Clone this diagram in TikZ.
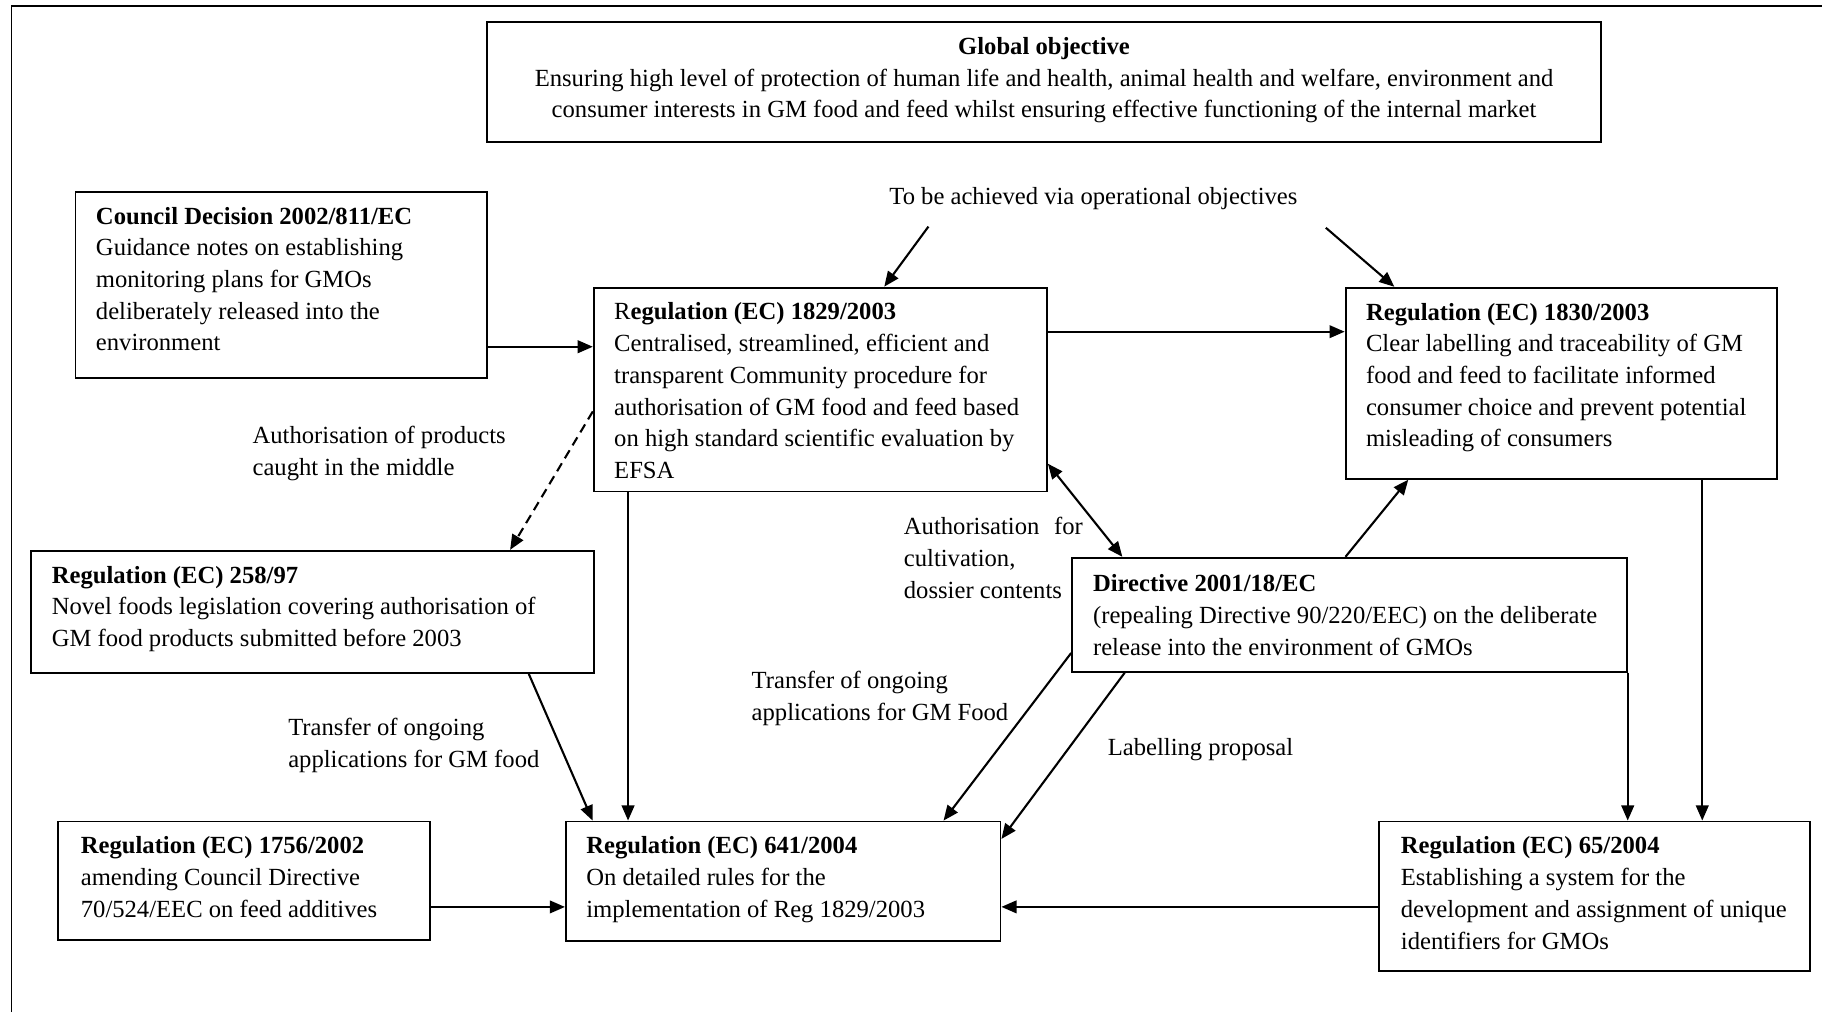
\documentclass[tikz,border=0pt]{standalone}
\usepackage{fontspec}
\setmainfont{Liberation Serif}
\usepackage{tikz}
\usetikzlibrary{positioning,arrows.meta}
\newcommand{\boxfont}{\fontsize{10.6pt}{13.65pt}\selectfont}

\begin{document}
\begin{tikzpicture}[x=0.5pt,y=-0.5pt,
  box/.style={draw,line width=0.8pt,inner sep=0pt},
  txt/.style={inner sep=0pt,align=left,font=\boxfont},
  link/.style={line width=0.9pt},
  >={Triangle[length=6.5pt,width=5.4pt]}]
  \useasboundingbox (0,0) rectangle (1568,871);
  \draw[line width=0.6pt](10,871) -- (10,5) -- (1568,5);

  \node at(898.5,70.5)[box,minimum width=479.5pt,minimum height=51.5pt](globalobj){};
  \node at(242,245)[box,minimum width=177pt,minimum height=80pt](council){};
  \node at(706,335.25)[box,minimum width=195pt,minimum height=87.75pt](reg1829){};
  \node at(1343.75,329.8)[box,minimum width=185.75pt,minimum height=82.2pt](reg1830){};
  \node at(269,526.5)[box,minimum width=242.5pt,minimum height=52.5pt](reg258){};
  \node at(1161.3,529)[box,minimum width=238.7pt,minimum height=49pt](directive){};
  \node at(210,758)[box,minimum width=160pt,minimum height=51pt](reg1756){};
  \node at(674,758.5)[box,minimum width=187pt,minimum height=51.5pt](reg641){};
  \node at(1372.5,771.25)[box,minimum width=185.5pt,minimum height=64.25pt](reg65){};

  \node[txt,align=center,below=6.75pt of globalobj.north](globaltext){\textbf{Global objective}\\Ensuring high level of protection of human life and health, animal health and welfare, environment and\\consumer interests in GM food and feed whilst ensuring effective functioning of the internal market};
  \node[txt,below right=6.75pt and 9pt of council.north west](counciltext){\textbf{Council Decision 2002/811/EC}\\Guidance notes on establishing\\monitoring plans for GMOs\\deliberately released into the\\environment};
  \node[txt,below right=6.75pt and 9pt of reg1829.north west](reg1829text){R\textbf{egulation (EC) 1829/2003}\\Centralised, streamlined, efficient and\\transparent Community procedure for\\authorisation of GM food and feed based\\on high standard scientific evaluation by\\EFSA};
  \node[txt,below right=6.75pt and 9pt of reg1830.north west](reg1830text){\textbf{Regulation (EC) 1830/2003}\\Clear labelling and traceability of GM\\food and feed to facilitate informed\\consumer choice and prevent potential\\misleading of consumers};
  \node[txt,below right=6.75pt and 9.25pt of reg258.north west](reg258text){\textbf{Regulation (EC) 258/97}\\Novel foods legislation covering authorisation of\\GM food products submitted before 2003};
  \node[txt,below right=7.4pt and 9.25pt of directive.north west](directivetext){\textbf{Directive 2001/18/EC}\\(repealing Directive 90/220/EEC) on the deliberate\\release into the environment of GMOs};
  \node[txt,below right=6.75pt and 10pt of reg1756.north west](reg1756text){\textbf{Regulation (EC) 1756/2002}\\amending Council Directive\\70/524/EEC on feed additives};
  \node[txt,below right=6.75pt and 9pt of reg641.north west](reg641text){\textbf{Regulation (EC) 641/2004}\\On detailed rules for the\\implementation of Reg 1829/2003};
  \node[txt,below right=6.75pt and 9.5pt of reg65.north west](reg65text){\textbf{Regulation (EC) 65/2004}\\Establishing a system for the\\development and assignment of unique\\identifiers for GMOs};

  \node at(765,171)[txt,anchor=west](via){To be achieved via operational objectives};
  \node at(217,366.5)[txt,anchor=north west](caught){Authorisation of products\\caught in the middle};
  \node at(777.5,445)[txt,anchor=north west](cultivation){Authorisation\hspace{0.6em}for\\cultivation,\\dossier contents};
  \node at(646.5,577)[txt,anchor=north west](transferfood){Transfer of ongoing\\applications for GM Food};
  \node at(247.7,617.5)[txt,anchor=north west](transfernovel){Transfer of ongoing\\applications for GM food};
  \node at(953,645)[txt,anchor=west](labelling){Labelling proposal};

  \coordinate (via1) at (799,195);
  \coordinate (via2) at (1141,196);

  \draw [link,->](via1) -- ([xshift=27.5pt]reg1829.north);
  \draw [link,->](via2) -- ([xshift=-71.9pt]reg1830.north);
  \draw [link,->]([yshift=-26.7pt]council.east) -- ([yshift=-26.7pt]council.east -| reg1829.west);
  \draw [link,->]([yshift=24.9pt]reg1829.east) -- ([yshift=24.9pt]reg1829.east -| reg1830.west);
  \draw [link,->,dash pattern=on 4pt off 2.5pt]([yshift=-9.4pt]reg1829.west) -- ([xshift=85pt]reg258.north);
  \draw [link,<->]([yshift=-31.9pt]reg1829.east) -- ([xshift=-97.7pt]directive.north);
  \draw [link,->]([xshift=-1.7pt]directive.north) -- ([xshift=-65.9pt]reg1830.south);
  \draw [link,->]([xshift=-82.75pt]reg1829.south) -- ([xshift=-82.75pt]reg1829.south |- reg641.north);
  \draw [link,->]([xshift=93pt]reg258.south) -- ([xshift=-82pt]reg641.north);
  \draw [link,->]([yshift=-16.5pt]directive.west) -- ([xshift=69pt]reg641.north);
  \draw [link,->]([xshift=-96.65pt]directive.south) -- ([yshift=18.25pt]reg641.east);
  \draw [link,->](directive.south east) -- (directive.south east |- reg65.north);
  \draw [link,->]([xshift=60.6pt]reg1830.south) -- ([xshift=60.6pt]reg1830.south |- reg65.north);
  \draw [link,->]([yshift=-4.6pt]reg65.west) -- ([yshift=-4.6pt]reg65.west -| reg641.east);
  \draw [link,->]([yshift=-11.25pt]reg1756.east) -- ([yshift=-11.25pt]reg1756.east -| reg641.west);
\end{tikzpicture}
\end{document}
